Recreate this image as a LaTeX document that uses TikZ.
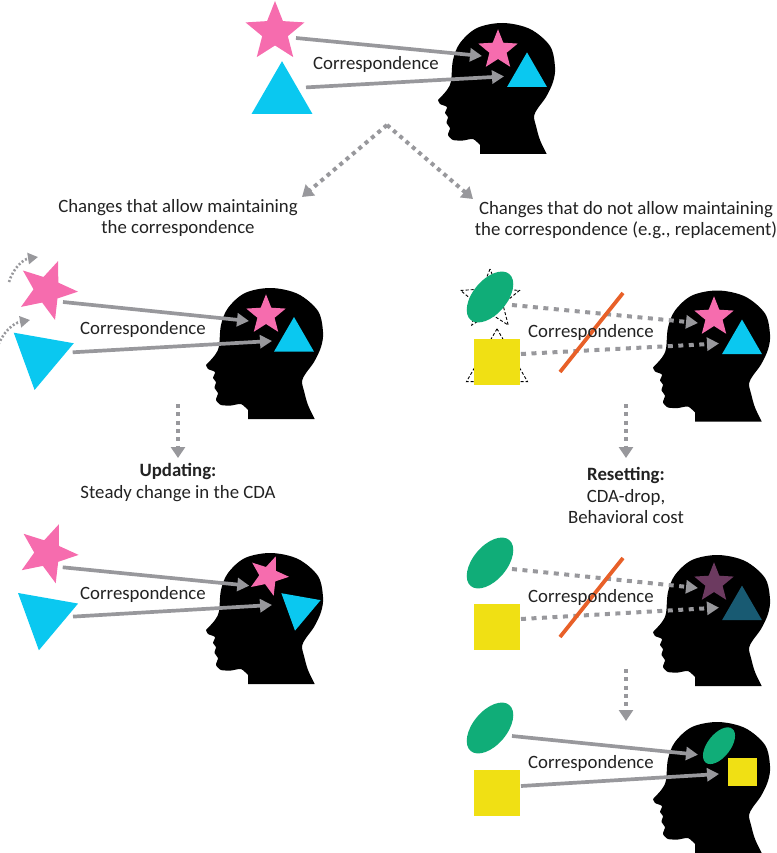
\documentclass[tikz,border=0pt]{standalone}
\usepackage{fontspec}
\setmainfont{Carlito}
\usepackage{xcolor}
\usetikzlibrary{shapes.geometric,arrows.meta,calc}

\definecolor{starpink}{RGB}{246,108,174}
\definecolor{tricyan}{RGB}{10,200,240}
\definecolor{ellgreen}{RGB}{16,173,120}
\definecolor{sqyellow}{RGB}{240,224,20}
\definecolor{flowgray}{RGB}{152,152,156}
\definecolor{slashorange}{RGB}{232,96,40}
\definecolor{fadestar}{RGB}{108,58,96}
\definecolor{fadetri}{RGB}{24,90,114}
\definecolor{textdark}{RGB}{34,34,34}

\begin{document}
\begin{tikzpicture}[
    x=1pt, y=-1pt,
    shapebase/.style={inner sep=0pt, outer sep=0pt},
    bigstar/.style={shapebase, star, star points=5, star point ratio=2.3, fill=starpink, minimum size=62pt},
    smallstar/.style={shapebase, star, star points=5, star point ratio=2.3, fill=starpink, minimum size=41.5pt},
    bigtri/.style={shapebase, regular polygon, regular polygon sides=3, fill=tricyan, minimum size=70.4pt},
    smalltri/.style={shapebase, regular polygon, regular polygon sides=3, fill=tricyan, minimum size=46pt},
    bigell/.style={shapebase, ellipse, fill=ellgreen, minimum width=60pt, minimum height=34pt, rotate=50},
    bigsq/.style={shapebase, rectangle, fill=sqyellow, minimum size=46pt},
    ghost/.style={fill=none, draw=black, line width=0.9pt, dash pattern=on 3pt off 2pt},
    link/.style={-{Triangle[length=12pt,width=13pt]}, line width=3.7pt, draw=flowgray},
    brokenlink/.style={link, dash pattern=on 5pt off 5.5pt, line width=4pt},
    flow/.style={-{Triangle[length=11pt,width=14pt]}, line width=4pt, draw=flowgray, dash pattern=on 4pt off 4.3pt},
    spin/.style={-{Triangle[length=10pt,width=11pt]}, line width=2.6pt, draw=flowgray, dash pattern=on 2pt off 2pt},
    slash/.style={line width=3.8pt, draw=slashorange},
    caption/.style={font=\fontsize{18.8}{21.5}\selectfont, text=textdark, align=center, inner sep=0pt},
    head/.pic={
        \fill[black] (0,0) -- (66.7,0) -- plot[smooth, tension=.55] coordinates {(66.7,0) (60,-14) (56,-28) (54,-38) (58,-46) (66,-57) (73,-72) (75,-87) (70,-108) (50,-125) (23,-131) (-3,-126) (-20,-111) (-27,-94) (-29,-73) (-33,-64) (-42,-54)}
            -- plot[smooth, tension=.4] coordinates {(-42,-54) (-40,-50) (-33,-47) (-35,-41) (-32,-37) (-33.5,-31) (-30,-26) (-32,-19) (-27,-14) (-17,-13.5) (-7,-15) (0,-9)} -- cycle;
    }
]
    \useasboundingbox (0,0) rectangle (776,853);

    % Top row
    \pic at (480,154) {head};
    \node[bigstar] (starTop) at (275,32) {};
    \node[bigtri] (triTop) at (282,96.4) {};
    \node[smallstar] (starTopIn) at (498,50) {};
    \node[smalltri] (triTopIn) at (527,75.4) {};
    \draw[link] ($(starTop)+(21,6)$) -- ($(starTopIn)+(-16,6)$);
    \draw[link] ($(triTop)+(24,-9)$) -- ($(triTopIn)+(-23,1)$);
    \node[caption] (corrTop) at (376,64) {Correspondence};

    % Branching into the two cases
    \coordinate (fork) at (387,125);
    \coordinate (forkL) at (302,197);
    \coordinate (forkR) at (473,199);
    \draw[flow] (fork) -- (forkL);
    \draw[flow] (fork) -- (forkR);
    \node[caption] (keepText) at (178,218) {Changes that allow maintaining\\the correspondence};
    \node[caption] (lostText) at (626,220) {Changes that do not allow maintaining\\the correspondence (e.g., replacement)};

    % Left column, objects being moved
    \pic at (248,419) {head};
    \node[bigstar, rotate=-21] (starMove) at (47,290) {};
    \node[bigtri, rotate=-70] (triMove) at (40.7,355.3) {};
    \node[smallstar] (starMoveIn) at (266,315) {};
    \node[smalltri] (triMoveIn) at (294,340) {};
    \draw[link] ($(starMove)+(16,12)$) -- ($(starMoveIn)+(-17,6)$);
    \draw[link] ($(triMove)+(32,-3)$) -- ($(triMoveIn)+(-22,1)$);
    \node[caption] (corrMove) at (143,329) {Correspondence};
    \coordinate (spinA) at (9,282);
    \coordinate (spinAend) at (38,257);
    \coordinate (spinB) at (-3,348);
    \coordinate (spinBend) at (30,320);
    \draw[spin] (spinA) to[bend left=32] (spinAend);
    \draw[spin] (spinB) to[bend left=30] (spinBend);

    % Left column, down to the updated state
    \coordinate (updA) at (178,404);
    \coordinate (updB) at (178,458);
    \draw[flow] (updA) -- (updB);
    \node[caption] (updText) at (178,482.5) {\textbf{Updating:}\\Steady change in the CDA};

    \pic at (248,684) {head};
    \node[bigstar, rotate=-21] (starUpd) at (47.7,553.3) {};
    \node[bigtri, rotate=-70] (triUpd) at (45,615.6) {};
    \node[smallstar, rotate=-21] (starUpdIn) at (268.3,575.7) {};
    \node[smalltri, rotate=-70] (triUpdIn) at (299,608) {};
    \draw[link] ($(starUpd)+(15,14)$) -- ($(starUpdIn)+(-19,10)$);
    \draw[link] ($(triUpd)+(28,1)$) -- ($(triUpdIn)+(-27,-3)$);
    \node[caption] (corrUpd) at (143,594) {Correspondence};

    % Right column, objects replaced
    \pic at (695,421.5) {head};
    \node[bigstar, ghost] (starOld) at (490,300) {};
    \node[bigtri, ghost] (triOld) at (497,364) {};
    \node[bigell] (ellNew) at (490,297) {};
    \node[bigsq] (sqNew) at (497,362) {};
    \node[smallstar] (starOldIn) at (714,317) {};
    \node[smalltri] (triOldIn) at (742,342.5) {};
    \draw[brokenlink] ($(ellNew)+(22,8)$) -- ($(starOldIn)+(-16,6)$);
    \draw[brokenlink] ($(sqNew)+(24,-8)$) -- ($(triOldIn)+(-23,1)$);
    \coordinate (slashA) at (623,293);
    \coordinate (slashB) at (560,372);
    \draw[slash] (slashA) -- (slashB);
    \node[caption] (corrOld) at (591,332) {Correspondence};

    % Right column, reset with the old items faded
    \coordinate (resA) at (626,404);
    \coordinate (resB) at (626,458);
    \draw[flow] (resA) -- (resB);
    \node[caption] (resText) at (626,495.5) {\textbf{Resetting:}\\CDA-drop,\\Behavioral cost};

    \pic at (695,686) {head};
    \node[bigell] (ellDrop) at (490,563) {};
    \node[bigsq] (sqDrop) at (497,627) {};
    \node[smallstar, fill=fadestar] (starDropIn) at (714,583) {};
    \node[smalltri, fill=fadetri] (triDropIn) at (742,608.6) {};
    \draw[brokenlink] ($(ellDrop)+(22,6)$) -- ($(starDropIn)+(-16,5)$);
    \draw[brokenlink] ($(sqDrop)+(24,-8)$) -- ($(triDropIn)+(-23,-1)$);
    \coordinate (slashC) at (623,558);
    \coordinate (slashD) at (560,637);
    \draw[slash] (slashC) -- (slashD);
    \node[caption] (corrDrop) at (591,597) {Correspondence};

    % Right column, new items stored
    \coordinate (newA) at (626,669);
    \coordinate (newB) at (626,721);
    \draw[flow] (newA) -- (newB);

    \pic at (695,853) {head};
    \node[bigell] (ellStore) at (490,728) {};
    \node[bigsq] (sqStore) at (497,793) {};
    \node[shapebase, ellipse, fill=ellgreen, minimum width=43pt, minimum height=23pt, rotate=52] (ellStoreIn) at (719,745.7) {};
    \node[shapebase, rectangle, fill=sqyellow, minimum size=28.5pt] (sqStoreIn) at (742.5,772) {};
    \draw[link] ($(ellStore)+(22,8)$) -- ($(ellStoreIn)+(-21,9)$);
    \draw[link] ($(sqStore)+(24,-7)$) -- ($(sqStoreIn)+(-23.5,2)$);
    \node[caption] (corrStore) at (591,763) {Correspondence};
\end{tikzpicture}
\end{document}
